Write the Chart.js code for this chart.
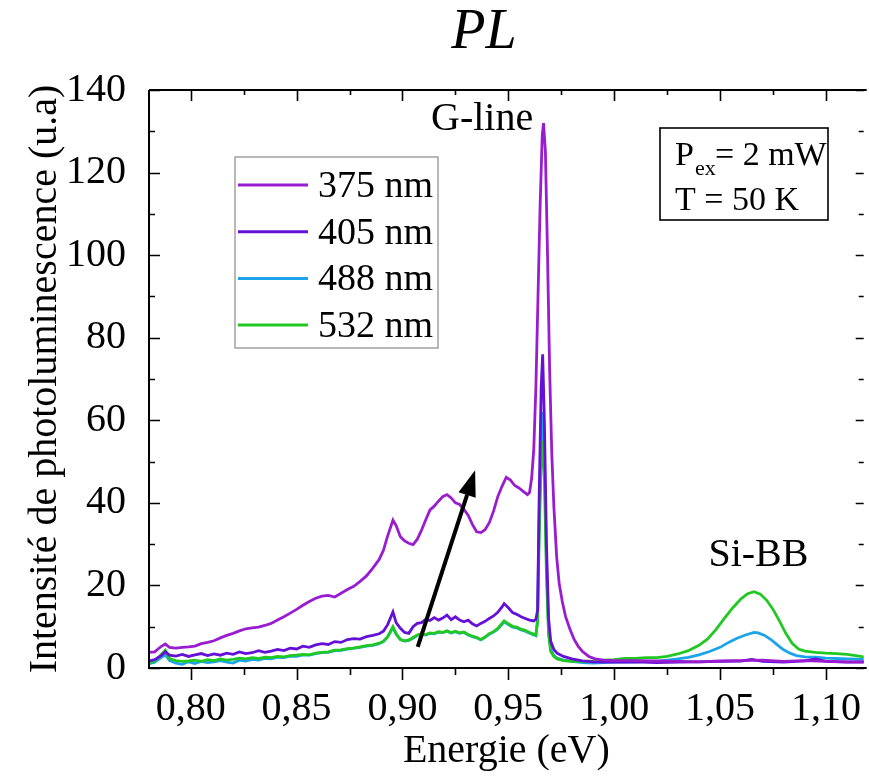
<!DOCTYPE html>
<html>
<head>
<meta charset="utf-8">
<title>PL</title>
<script src="https://cdn.jsdelivr.net/npm/chart.js@4.4.1/dist/chart.umd.min.js"></script>
<style>
  html, body { margin: 0; padding: 0; background: #fff; }
  #wrap { width: 870px; height: 776px; }
</style>
</head>
<body>
<div id="wrap"><canvas id="plChart" width="870" height="776"></canvas></div>
<script>
// energies (eV) and intensities (u.a), one pair per laser line
var e375 = [0.780, 0.783, 0.786, 0.788, 0.790, 0.793, 0.796, 0.799, 0.802, 0.805, 0.808, 0.811, 0.814, 0.817, 0.820, 0.823, 0.826, 0.829, 0.832, 0.835, 0.838, 0.841, 0.844, 0.847, 0.850, 0.853, 0.856, 0.859, 0.862, 0.865, 0.868, 0.871, 0.874, 0.877, 0.880, 0.883, 0.886, 0.889, 0.891, 0.893, 0.8955, 0.897, 0.899, 0.901, 0.903, 0.905, 0.907, 0.909, 0.911, 0.913, 0.915, 0.917, 0.919, 0.921, 0.923, 0.925, 0.927, 0.929, 0.931, 0.933, 0.935, 0.937, 0.939, 0.941, 0.943, 0.945, 0.947, 0.949, 0.951, 0.953, 0.955, 0.957, 0.959, 0.960, 0.961, 0.962, 0.963, 0.964, 0.965, 0.966, 0.9666, 0.9675, 0.9685, 0.9695, 0.9705, 0.9715, 0.9728, 0.974, 0.9755, 0.977, 0.979, 0.981, 0.983, 0.985, 0.988, 0.991, 0.995, 1.000, 1.010, 1.020, 1.030, 1.040, 1.050, 1.060, 1.070, 1.080, 1.090, 1.100, 1.110, 1.118];
var i375 = [3.8, 3.9, 5.2, 5.8, 5.0, 4.8, 5.0, 5.1, 5.3, 5.9, 6.2, 6.6, 7.3, 7.9, 8.4, 9.0, 9.5, 9.7, 9.9, 10.3, 10.8, 11.6, 12.4, 13.3, 14.2, 15.2, 16.1, 16.9, 17.4, 17.6, 17.2, 18.1, 19.0, 19.8, 21.0, 22.3, 24.2, 26.3, 28.5, 32.0, 35.8, 34.5, 31.8, 30.8, 30.2, 29.9, 31.2, 33.4, 35.9, 38.3, 39.2, 40.4, 41.5, 42.0, 41.2, 40.0, 39.6, 38.4, 37.0, 34.8, 33.0, 32.8, 33.5, 35.2, 38.0, 41.5, 44.0, 46.2, 45.5, 44.2, 43.6, 42.8, 42.0, 42.5, 46.0, 53.0, 68.0, 90.0, 112.0, 129.0, 132.0, 125.0, 100.0, 72.0, 52.0, 39.0, 27.0, 20.5, 16.0, 12.5, 9.5, 7.0, 5.2, 4.0, 2.8, 2.2, 1.9, 1.8, 1.8, 1.7, 1.6, 1.5, 1.7, 1.8, 1.9, 1.6, 1.8, 1.6, 1.5, 1.4];

var e405 = [0.780, 0.783, 0.786, 0.788, 0.790, 0.793, 0.796, 0.799, 0.802, 0.805, 0.808, 0.811, 0.814, 0.817, 0.820, 0.823, 0.826, 0.829, 0.832, 0.835, 0.838, 0.841, 0.844, 0.847, 0.850, 0.853, 0.856, 0.859, 0.862, 0.865, 0.868, 0.871, 0.874, 0.877, 0.880, 0.883, 0.886, 0.889, 0.891, 0.893, 0.8955, 0.897, 0.899, 0.901, 0.903, 0.905, 0.907, 0.909, 0.911, 0.913, 0.915, 0.917, 0.919, 0.921, 0.923, 0.925, 0.927, 0.929, 0.931, 0.933, 0.935, 0.937, 0.939, 0.941, 0.943, 0.945, 0.947, 0.948, 0.950, 0.952, 0.954, 0.956, 0.958, 0.960, 0.962, 0.963, 0.9638, 0.9645, 0.9655, 0.9662, 0.967, 0.968, 0.969, 0.970, 0.9715, 0.973, 0.976, 0.980, 0.985, 0.990, 1.000, 1.010, 1.020, 1.030, 1.040, 1.050, 1.060, 1.065, 1.070, 1.080, 1.090, 1.095, 1.100, 1.110, 1.118];
var i405 = [1.7, 2.0, 3.0, 3.9, 3.1, 2.9, 3.3, 2.8, 3.2, 3.5, 3.0, 3.4, 3.1, 3.6, 3.3, 3.9, 3.5, 3.7, 4.2, 3.8, 4.1, 4.5, 4.2, 4.8, 4.6, 5.3, 5.0, 5.6, 5.9, 5.7, 6.4, 6.2, 6.9, 7.1, 7.0, 7.6, 7.9, 8.3, 8.9, 10.5, 13.6, 11.0, 9.6, 8.6, 8.4, 10.0, 10.8, 11.0, 11.8, 11.5, 12.2, 11.6, 12.1, 12.8, 11.7, 12.4, 11.6, 11.2, 11.6, 10.7, 10.2, 10.8, 11.3, 12.0, 12.6, 13.5, 14.8, 15.6, 14.6, 13.4, 13.0, 12.4, 12.0, 11.6, 11.4, 11.8, 14.0, 40.0, 68.0, 76.0, 60.0, 30.0, 12.0, 6.5, 4.5, 3.6, 2.8, 2.2, 1.7, 1.5, 1.4, 1.5, 1.3, 1.4, 1.5, 1.6, 1.7, 2.1, 1.6, 1.4, 1.7, 2.2, 1.6, 1.4, 1.5];

var e488 = [0.780, 0.783, 0.786, 0.788, 0.790, 0.793, 0.796, 0.799, 0.802, 0.805, 0.808, 0.811, 0.814, 0.817, 0.820, 0.823, 0.826, 0.829, 0.832, 0.835, 0.838, 0.841, 0.844, 0.847, 0.850, 0.853, 0.856, 0.859, 0.862, 0.865, 0.868, 0.871, 0.874, 0.877, 0.880, 0.883, 0.886, 0.889, 0.891, 0.893, 0.8955, 0.897, 0.899, 0.901, 0.903, 0.905, 0.907, 0.909, 0.911, 0.913, 0.915, 0.917, 0.919, 0.921, 0.923, 0.925, 0.927, 0.929, 0.931, 0.933, 0.935, 0.937, 0.939, 0.941, 0.943, 0.945, 0.947, 0.948, 0.950, 0.952, 0.954, 0.956, 0.958, 0.960, 0.962, 0.963, 0.9638, 0.9645, 0.9655, 0.9662, 0.967, 0.968, 0.969, 0.970, 0.9715, 0.973, 0.976, 0.980, 0.985, 0.990, 1.000, 1.010, 1.020, 1.025, 1.030, 1.035, 1.040, 1.045, 1.050, 1.054, 1.058, 1.062, 1.066, 1.068, 1.071, 1.074, 1.077, 1.080, 1.083, 1.086, 1.090, 1.095, 1.100, 1.105, 1.110, 1.118];
var i488 = [1.0, 1.4, 2.5, 3.2, 1.8, 1.2, 0.9, 1.5, 1.1, 1.6, 1.3, 1.5, 1.8, 1.4, 1.2, 1.9, 1.7, 2.1, 1.9, 2.3, 2.2, 2.6, 2.5, 2.9, 2.8, 3.2, 3.1, 3.5, 3.7, 3.8, 4.2, 4.3, 4.6, 4.8, 5.0, 5.3, 5.5, 5.9, 6.4, 7.5, 9.8, 8.2, 6.9, 6.5, 6.7, 7.2, 7.9, 8.2, 8.0, 8.4, 8.3, 8.7, 8.6, 8.9, 8.5, 8.8, 8.4, 8.6, 8.0, 7.6, 7.3, 6.8, 7.4, 8.2, 8.7, 9.4, 10.6, 11.2, 10.5, 9.9, 9.7, 9.2, 8.9, 8.4, 8.0, 7.8, 12.0, 35.0, 56.0, 62.0, 52.0, 26.0, 9.0, 4.5, 3.0, 2.4, 1.9, 1.6, 1.3, 1.2, 1.4, 1.5, 1.6, 1.9, 2.2, 2.6, 3.2, 4.0, 5.0, 6.2, 7.2, 8.0, 8.6, 8.5, 7.9, 6.9, 5.6, 4.4, 3.6, 3.0, 2.7, 2.6, 2.4, 2.3, 2.2, 2.1];

var e532 = [0.780, 0.783, 0.786, 0.788, 0.790, 0.793, 0.796, 0.799, 0.802, 0.805, 0.808, 0.811, 0.814, 0.817, 0.820, 0.823, 0.826, 0.829, 0.832, 0.835, 0.838, 0.841, 0.844, 0.847, 0.850, 0.853, 0.856, 0.859, 0.862, 0.865, 0.868, 0.871, 0.874, 0.877, 0.880, 0.883, 0.886, 0.889, 0.891, 0.893, 0.8955, 0.897, 0.899, 0.901, 0.903, 0.905, 0.907, 0.909, 0.911, 0.913, 0.915, 0.917, 0.919, 0.921, 0.923, 0.925, 0.927, 0.929, 0.931, 0.933, 0.935, 0.937, 0.939, 0.941, 0.943, 0.945, 0.947, 0.948, 0.950, 0.952, 0.954, 0.956, 0.958, 0.960, 0.962, 0.963, 0.9638, 0.9645, 0.9655, 0.9662, 0.967, 0.968, 0.969, 0.970, 0.9715, 0.973, 0.976, 0.980, 0.985, 0.990, 0.995, 1.000, 1.005, 1.010, 1.015, 1.020, 1.025, 1.030, 1.035, 1.040, 1.044, 1.048, 1.052, 1.056, 1.060, 1.063, 1.066, 1.069, 1.072, 1.075, 1.078, 1.081, 1.084, 1.087, 1.090, 1.095, 1.100, 1.105, 1.110, 1.118];
var i532 = [1.3, 1.7, 3.2, 4.3, 2.3, 1.8, 1.6, 1.7, 1.9, 1.6, 2.0, 1.8, 2.2, 1.9, 2.1, 2.4, 2.2, 2.5, 2.3, 2.6, 2.5, 2.8, 2.7, 3.0, 3.1, 3.3, 3.2, 3.6, 3.8, 3.9, 4.3, 4.4, 4.7, 4.8, 5.1, 5.4, 5.6, 6.0, 6.5, 7.6, 10.0, 8.3, 6.9, 6.6, 6.8, 7.4, 8.0, 8.3, 8.1, 8.5, 8.4, 8.8, 8.6, 9.0, 8.6, 8.9, 8.5, 8.7, 8.1, 7.7, 7.4, 6.9, 7.5, 8.3, 8.8, 9.6, 10.8, 11.4, 10.7, 10.1, 9.9, 9.4, 9.1, 8.6, 8.2, 8.0, 11.0, 30.0, 50.0, 55.0, 46.0, 22.0, 8.0, 4.0, 2.8, 2.2, 1.8, 1.6, 1.6, 1.7, 1.9, 2.0, 2.3, 2.3, 2.5, 2.5, 2.8, 3.4, 4.2, 5.5, 7.0, 9.3, 12.0, 14.6, 16.8, 18.0, 18.5, 17.9, 16.4, 14.2, 11.4, 8.4, 6.0, 4.6, 4.1, 3.8, 3.6, 3.5, 3.3, 2.7];

var seriesLabels = ["375 nm", "405 nm", "488 nm", "532 nm"];
var seriesColors = ["#9a1cd0", "#6410d6", "#1ca4ea", "#22c822"];
var drawOrder = [0, 1, 3, 2];

var serif = "'Liberation Serif', 'Times New Roman', serif";

function toPoints(xs, ys) {
	var pts = [];
	for (var k = 0; k < xs.length; k++) {
		pts.push({ x: xs[k], y: ys[k] });
	}
	return pts;
}

var energies = [e375, e405, e488, e532];
var intensities = [i375, i405, i488, i532];
var datasets = [];
for (i = 0; i < seriesLabels.length; i++) {
	datasets.push({
		label: seriesLabels[i],
		data: toPoints(energies[i], intensities[i]),
		borderColor: seriesColors[i],
		backgroundColor: seriesColors[i],
		borderWidth: 2.8,
		pointRadius: 0,
		tension: 0,
		order: drawOrder[i],
	});
}

// frame, inner/outer ticks, legend box, labels and arrow
var decorations = {
	id: "decorations",
	beforeDraw: function (chart) {
		var ctx = chart.ctx;
		ctx.save();
		ctx.fillStyle = "#ffffff";
		ctx.fillRect(0, 0, chart.width, chart.height);
		ctx.restore();
	},
	afterDraw: function (chart) {
		var ctx = chart.ctx;
		var a = chart.chartArea;
		var xs = chart.scales.x;
		var ys = chart.scales.y;
		ctx.save();

		// title
		ctx.fillStyle = "#000";
		ctx.font = "italic 56px " + serif;
		ctx.textAlign = "center";
		ctx.textBaseline = "alphabetic";
		ctx.fillText("PL", 484, 48);

		// frame
		ctx.strokeStyle = "#000";
		ctx.lineWidth = 2;
		ctx.beginPath();
		ctx.moveTo(a.left, a.top);
		ctx.lineTo(a.left, a.bottom);
		ctx.lineTo(a.right + 3, a.bottom);
		ctx.moveTo(a.left, a.top);
		ctx.lineTo(a.right + 3, a.top);
		ctx.stroke();

		// x ticks: out at the bottom, in at the top
		ctx.lineWidth = 1.6;
		ctx.beginPath();
		xs.ticks.forEach(function (t) {
			var vals = [[t.value, 12, 11], [t.value + 0.025, 7, 5]];
			if (t === xs.ticks[0]) vals.push([t.value - 0.025, 7, 5]);
			vals.forEach(function (v) {
				if (v[0] < xs.min || v[0] > xs.max) return;
				var px = Math.round(xs.getPixelForValue(v[0])) + 0.5;
				ctx.moveTo(px, a.bottom);
				ctx.lineTo(px, a.bottom + v[1]);
				ctx.moveTo(px, a.top);
				ctx.lineTo(px, a.top + v[2]);
			});
		});
		// y ticks: in on both sides
		ys.ticks.forEach(function (t) {
			[[t.value, 11, 8], [t.value + 10, 6, 5]].forEach(function (v) {
				if (v[0] > ys.max) return;
				var py = Math.round(ys.getPixelForValue(v[0])) + 0.5;
				ctx.moveTo(a.left, py);
				ctx.lineTo(a.left + v[1], py);
				ctx.moveTo(a.right, py);
				ctx.lineTo(a.right - v[2], py);
			});
		});
		ctx.stroke();

		// legend
		var lx = a.left + 86, ly = a.top + 67;
		ctx.strokeStyle = "#8a8a8a";
		ctx.lineWidth = 1.2;
		ctx.strokeRect(lx, ly, 203, 191);
		ctx.font = "38px " + serif;
		ctx.textAlign = "left";
		ctx.textBaseline = "middle";
		chart.data.datasets.forEach(function (ds, k) {
			var ry = ly + 28 + k * 46.7;
			ctx.strokeStyle = ds.borderColor;
			ctx.lineWidth = 3;
			ctx.beginPath();
			ctx.moveTo(lx + 3, ry);
			ctx.lineTo(lx + 73, ry);
			ctx.stroke();
			ctx.fillStyle = "#000";
			ctx.fillText(ds.label, lx + 83, ry + 2);
		});

		// conditions box
		var bx = a.left + 511, by = a.top + 38;
		ctx.strokeStyle = "#000";
		ctx.lineWidth = 1.6;
		ctx.strokeRect(bx, by, 168, 92);
		ctx.textBaseline = "alphabetic";
		ctx.font = "34px " + serif;
		ctx.fillText("P", bx + 15, by + 37);
		ctx.font = "22px " + serif;
		ctx.fillText("ex", bx + 35, by + 47);
		ctx.font = "34px " + serif;
		ctx.fillText("= 2 mW", bx + 55, by + 37);
		ctx.fillText("T = 50 K", bx + 15, by + 82);

		// peak labels
		ctx.font = "40px " + serif;
		ctx.textAlign = "center";
		ctx.fillText("G-line", xs.getPixelForValue(0.9376), ys.getPixelForValue(130.3));
		ctx.fillText("Si-BB", xs.getPixelForValue(1.0681), ys.getPixelForValue(24.7));

		// arrow
		var x0 = xs.getPixelForValue(0.9072), y0 = ys.getPixelForValue(5.1);
		var x1 = xs.getPixelForValue(0.9343), y1 = ys.getPixelForValue(47.9);
		var ang = Math.atan2(y1 - y0, x1 - x0);
		var headLen = 26, headW = 9;
		var bxh = x1 - headLen * Math.cos(ang), byh = y1 - headLen * Math.sin(ang);
		ctx.strokeStyle = "#000";
		ctx.lineWidth = 4;
		ctx.beginPath();
		ctx.moveTo(x0, y0);
		ctx.lineTo(bxh, byh);
		ctx.stroke();
		ctx.fillStyle = "#000";
		ctx.beginPath();
		ctx.moveTo(x1, y1);
		ctx.lineTo(bxh + headW * Math.sin(ang), byh - headW * Math.cos(ang));
		ctx.lineTo(bxh - headW * Math.sin(ang), byh + headW * Math.cos(ang));
		ctx.closePath();
		ctx.fill();

		ctx.restore();
	},
};

var ctx = document.getElementById("plChart").getContext("2d");
var plChart = new Chart(ctx, {
	type: "line",
	data: { datasets: datasets },
	options: {
		responsive: false,
		animation: false,
		devicePixelRatio: 1,
		layout: { padding: { top: 90, right: 0, bottom: 0, left: 0 } },
		plugins: {
			legend: { display: false },
			tooltip: { enabled: false },
			title: { display: false },
		},
		scales: {
			x: {
				type: "linear",
				min: 0.7803,
				max: 1.1178,
				grid: { display: false },
				border: { display: false },
				ticks: {
					stepSize: 0.05,
					includeBounds: false,
					padding: 9,
					color: "#000",
					font: { family: serif, size: 40 },
					callback: function (v) {
						return v.toFixed(2).replace(".", ",");
					},
				},
				title: {
					display: true,
					text: "Energie (eV)",
					color: "#000",
					font: { family: serif, size: 40 },
					padding: { top: 0, bottom: 1 },
				},
				afterFit: function (scale) {
					scale.height = 108;
				},
			},
			y: {
				type: "linear",
				min: 0,
				max: 140,
				grid: { display: false },
				border: { display: false },
				ticks: {
					stepSize: 20,
					padding: 15,
					color: "#000",
					font: { family: serif, size: 40 },
				},
				title: {
					display: true,
					text: "Intensité de photoluminescence (u.a)",
					color: "#000",
					font: { family: serif, size: 40 },
					padding: { top: 21, bottom: 0 },
				},
				afterFit: function (scale) {
					scale.width = 149;
				},
			},
		},
	},
	plugins: [decorations],
});
</script>
</body>
</html>
